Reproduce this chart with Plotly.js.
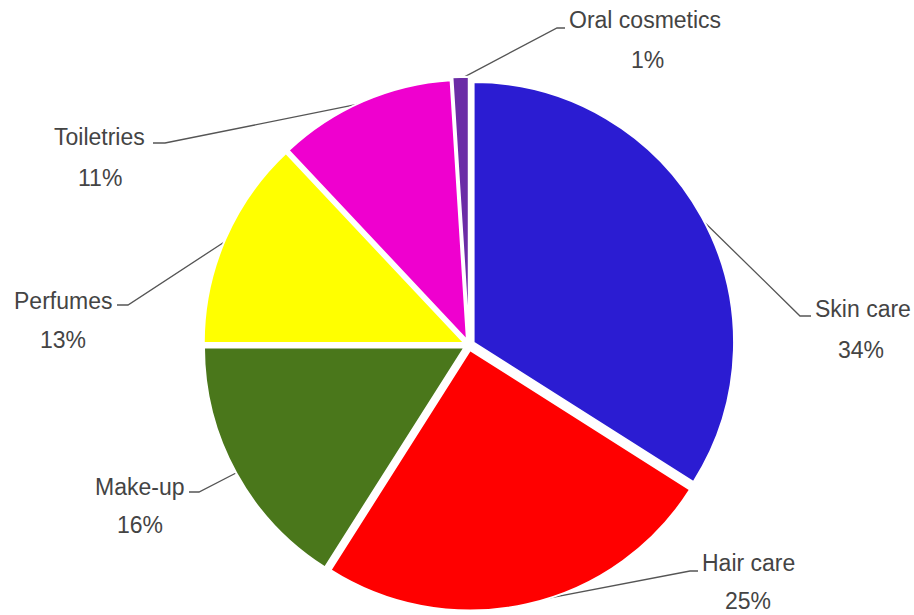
<!DOCTYPE html>
<html>
<head>
<meta charset="utf-8">
<script src="https://cdn.plot.ly/plotly-3.0.1.min.js"></script>
<style>html,body{margin:0;padding:0;background:#fff;}#chart{width:914px;height:615px;}</style>
</head>
<body>
<div id="chart"></div>
<script>
// ---- data ----
var categories = ["Skin care", "Hair care", "Make-up", "Perfumes", "Toiletries", "Oral cosmetics"];
var shares = [34, 25, 16, 13, 11, 1];
var percentLabels = ["34%", "25%", "16%", "13%", "11%", "1%"];
var colors = ["#2b1cd2", "#ff0000", "#4a771b", "#ffff00", "#ef00cf", "#6b2ca6"];
var pulls = [0.02, 0.02, 0.02, 0.02, 0.02, 0.03];

// ---- label layout (pixel positions of label text and leader elbows) ----
var W = 914, H = 615;
var labelLayout = [
  {elbow: [800, 316], end: [811, 316], name: [813, 309, "left"], pct: [861, 350]},
  {elbow: [690, 571], end: [698, 571], name: [700, 563, "left"], pct: [748, 601]},
  {elbow: [199, 492], end: [189, 492], name: [186, 487, "right"], pct: [140, 525]},
  {elbow: [128, 305], end: [117, 305], name: [114, 301, "right"], pct: [63, 340]},
  {elbow: [165, 143], end: [153, 143], name: [147, 137, "right"], pct: [100, 178]},
  {elbow: [557, 28], end: [565, 28], name: [567, 20, "left"], pct: [647, 60]}
];

// pie geometry
var domX = [0.2196, 0.8067], domY = [0.0028, 0.8753];
var cx = W * (domX[0] + domX[1]) / 2;
var cy = H * (1 - (domY[0] + domY[1]) / 2);
var maxPull = Math.max.apply(null, pulls);
var r = Math.min(W * (domX[1] - domX[0]), H * (domY[1] - domY[0])) / 2 / (1 + maxPull);

function px(x) { return x / W; }
function py(y) { return 1 - y / H; }

var total = shares.reduce(function (a, b) { return a + b; }, 0);
var shapes = [], annotations = [];
var cum = 0;
var txtFont = {family: "Liberation Sans, Arial, sans-serif", size: 23, color: "#444444"};
for (var i = 0; i < shares.length; i++) {
  var mid = (cum + shares[i] / 2) / total * 2 * Math.PI;
  cum += shares[i];
  var rr = r * (1 + pulls[i]) - 2;
  var sx = cx + rr * Math.sin(mid);
  var sy = cy - rr * Math.cos(mid);
  var L = labelLayout[i];
  shapes.push({
    type: "path", xref: "paper", yref: "paper", layer: "below",
    path: "M" + px(sx) + "," + py(sy) + " L" + px(L.elbow[0]) + "," + py(L.elbow[1]) + " L" + px(L.end[0]) + "," + py(L.end[1]),
    line: {color: "#555555", width: 1.3}
  });
  annotations.push({
    xref: "paper", yref: "paper", x: px(L.name[0]), y: py(L.name[1]),
    xanchor: L.name[2], yanchor: "middle", showarrow: false,
    text: categories[i], font: txtFont
  });
  annotations.push({
    xref: "paper", yref: "paper", x: px(L.pct[0]), y: py(L.pct[1]),
    xanchor: "center", yanchor: "middle", showarrow: false,
    text: percentLabels[i], font: txtFont
  });
}

var trace = {
  type: "pie",
  labels: categories,
  values: shares,
  sort: false,
  direction: "clockwise",
  rotation: 0,
  pull: pulls,
  marker: {colors: colors, line: {color: "#ffffff", width: 2}},
  textinfo: "none",
  hoverinfo: "label+percent",
  domain: {x: domX, y: domY},
  showlegend: false
};

var layout = {
  width: W, height: H,
  margin: {l: 0, r: 0, t: 0, b: 0},
  paper_bgcolor: "#ffffff",
  showlegend: false,
  shapes: shapes,
  annotations: annotations
};

Plotly.newPlot("chart", [trace], layout, {displayModeBar: false, staticPlot: true});
</script>
</body>
</html>
